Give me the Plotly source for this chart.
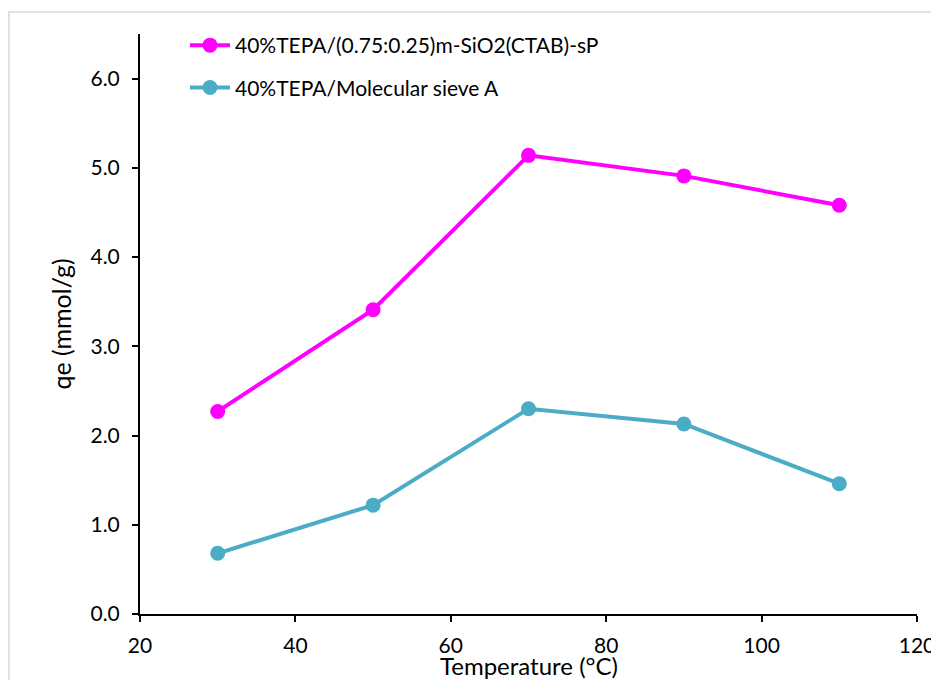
import plotly.graph_objects as go

temperature = [30, 50, 70, 90, 110]
qe_sio2 = [2.27, 3.41, 5.14, 4.91, 4.58]
qe_sieve = [0.68, 1.22, 2.30, 2.13, 1.46]
name_sio2 = "40%TEPA/(0.75:0.25)m-SiO2(CTAB)-sP"
name_sieve = "40%TEPA/Molecular sieve A"
x_ticks = [20, 40, 60, 80, 100, 120]
y_ticks = [0, 1, 2, 3, 4, 5, 6]
y_tick_labels = ["0.0", "1.0", "2.0", "3.0", "4.0", "5.0", "6.0"]
x_title = "Temperature (°C)"
y_title = "qe (mmol/g)"

# page body has an 8px margin; figure fills the rest of the 939x680 window
W, H = 931, 672
L, R, T, B = 132, 22, 26, 66
pw, ph = W - L - R, H - T - B

fig = go.Figure()
fig.add_trace(go.Scatter(x=temperature, y=qe_sio2, name=name_sio2, mode="lines+markers",
                         line=dict(color="#FF00FF", width=4),
                         marker=dict(color="#FF00FF", size=15), legendgroup="a"))
fig.add_trace(go.Scatter(x=temperature, y=qe_sieve, name=name_sieve, mode="lines+markers",
                         line=dict(color="#4BACC6", width=4),
                         marker=dict(color="#4BACC6", size=15), legendgroup="b"))

font_family = "Lato, Open Sans, sans-serif"
fig.update_layout(
    width=W, height=H,
    margin=dict(l=L, r=R, t=T, b=B),
    paper_bgcolor="white", plot_bgcolor="white",
    font=dict(family=font_family, color="black", size=21),
    showlegend=True,
    legend=dict(x=(185 - 8 - L) / pw, y=(H - B - 17) / ph, xanchor="left", yanchor="top",
                font=dict(size=21), tracegroupgap=12, itemwidth=40,
                bgcolor="rgba(0,0,0,0)"),
    xaxis=dict(range=[20, 120], tickvals=x_ticks, showline=True, linecolor="black", linewidth=2,
               ticks="outside", ticklen=6, tickwidth=2, tickcolor="black", showgrid=False,
               zeroline=False, tickfont=dict(size=21), ticklabelstandoff=6,
               ticklabeloverflow="allow", automargin=False),
    yaxis=dict(range=[0, 6.5], tickvals=y_ticks, ticktext=y_tick_labels, showline=True,
               linecolor="black", linewidth=2, ticks="outside", ticklen=6, tickwidth=2,
               tickcolor="black", showgrid=False, zeroline=False, tickfont=dict(size=21),
               ticklabelstandoff=8, automargin=False,
               title=dict(text=y_title, font=dict(size=25), standoff=12)),
)
# x-axis title placed just below the tick labels
fig.add_annotation(text=x_title, xref="paper", yref="paper", x=0.5, y=-(642 - (H - B)) / ph,
                   xanchor="center", yanchor="top", showarrow=False, borderpad=0,
                   font=dict(size=24, family=font_family, color="black"))
fig.add_shape(type="rect", xref="paper", yref="paper",
              x0=(1 - L) / pw, x1=1.3,
              y0=-0.5, y1=(H - B - 4) / ph,
              line=dict(color="#D9D9D9", width=1.5), fillcolor="rgba(0,0,0,0)", layer="below")
fig.write_html("out.html")
